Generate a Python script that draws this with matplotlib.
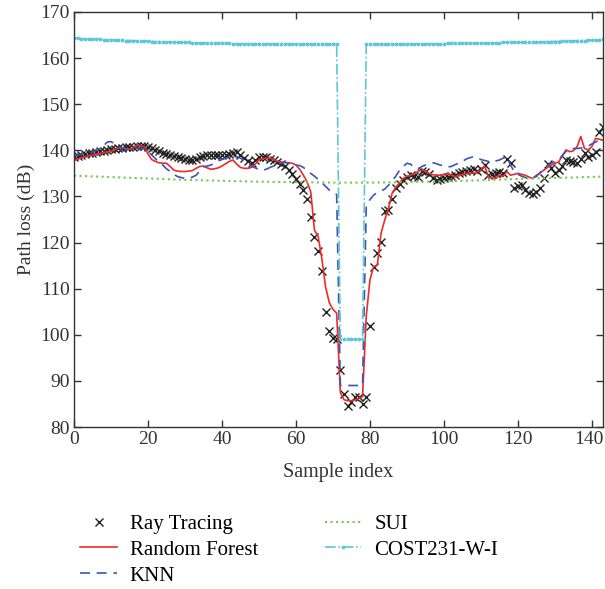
import matplotlib
matplotlib.use('Agg')
import matplotlib.pyplot as plt
import matplotlib.transforms as mtransforms
import numpy as np

plt.rcParams['font.family'] = ['Liberation Serif', 'DejaVu Serif']

# sample index
idx = list(range(144))

# Ray Tracing (dB)
ray = [138.6, 138.8, 139.0, 139.2, 139.4, 139.5, 139.7, 139.8, 139.9, 140.1,
       140.2, 140.3, 140.5, 140.6, 140.7, 140.8, 140.8, 140.9, 140.9, 140.9,
       140.7, 140.4, 140.1, 139.8, 139.5, 139.3, 139.0, 138.8, 138.5, 138.3,
       138.1, 137.9, 137.8, 138.2, 138.6, 138.8, 139.0, 139.0, 138.9, 138.9,
       138.9, 139.0, 139.2, 139.5, 139.7, 138.9, 138.3, 137.7, 137.2, 137.8,
       138.5, 138.6, 138.5, 138.2, 137.8, 137.5, 137.0, 136.5, 135.8, 134.8,
       133.8, 132.8, 131.4, 129.5, 125.5, 121.3, 118.2, 113.8, 105.0, 100.9,
       99.4, 99.0, 92.4, 87.1, 84.6, 85.5, 86.4, 86.6, 85.0, 86.4,
       101.9, 114.8, 117.7, 120.2, 126.9, 127.0, 129.4, 131.8, 132.8, 133.6,
       134.2, 134.6, 134.5, 134.3, 135.5, 135.2, 134.8, 133.9, 133.6, 133.7,
       133.9, 134.2, 134.5, 134.7, 135.0, 135.3, 135.6, 135.8, 135.9, 135.6,
       136.0, 136.8, 134.6, 134.9, 135.0, 135.2, 135.0, 138.1, 137.2, 131.8,
       132.3, 132.5, 131.4, 130.8, 130.6, 131.0, 131.8, 133.9, 137.0, 136.1,
       135.0, 135.8, 136.6, 137.9, 137.6, 137.5, 137.2, 138.2, 139.4, 138.6,
       139.0, 139.7, 144.0, 145.0]

# Random Forest (dB)
rf = [137.9, 138.1, 138.4, 138.6, 138.8, 139.0, 139.2, 139.3, 139.5, 139.7,
      139.8, 140.1, 140.5, 140.6, 140.3, 140.2, 140.6, 141.1, 140.9, 140.8,
      139.2, 138.0, 137.6, 137.3, 137.2, 137.2, 136.5, 135.7, 135.5, 135.4,
      135.4, 135.5, 135.6, 136.1, 136.5, 136.6, 136.2, 135.9, 136.0, 136.2,
      136.6, 137.1, 137.6, 137.9, 137.0, 136.3, 136.1, 136.1, 136.3, 137.0,
      138.0, 138.2, 138.3, 138.3, 138.0, 137.6, 137.5, 137.4, 137.3, 137.2,
      136.8, 135.9, 134.6, 133.2, 131.0, 122.7, 121.3, 116.5, 110.4, 107.0,
      105.5, 104.7, 87.5, 85.9, 85.7, 85.7, 85.9, 86.2, 86.6, 104.0,
      111.9, 114.8, 115.1, 122.0, 124.9, 127.4, 130.7, 132.0, 133.0, 133.9,
      134.4, 134.6, 135.0, 135.4, 135.8, 135.4, 135.0, 134.7, 134.6, 134.6,
      134.8, 135.0, 134.6, 134.3, 134.6, 134.8, 135.0, 135.0, 135.0, 135.3,
      135.7, 136.6, 134.3, 134.0, 133.9, 134.6, 134.3, 135.4, 134.6, 134.8,
      135.0, 134.8, 134.6, 134.2, 133.9, 134.6, 135.1, 135.7, 136.3, 136.8,
      137.2, 137.5, 138.8, 140.1, 139.7, 139.9, 140.8, 143.0, 140.4, 140.1,
      140.8, 142.6, 142.4, 142.2]

# KNN (dB)
knn = [139.0, 139.0, 139.1, 139.2, 139.3, 139.6, 140.0, 140.4, 141.0, 141.8,
       141.9, 141.4, 140.8, 140.4, 140.4, 140.5, 140.6, 140.5, 140.4, 140.4,
       139.8, 139.0, 138.2, 137.4, 136.8, 136.0, 135.4, 134.8, 134.3, 134.1,
       133.9, 133.9, 134.2, 134.6, 135.5, 136.4, 136.6, 136.8, 137.3, 137.7,
       138.0, 138.3, 138.5, 138.6, 138.6, 138.3, 137.8, 137.3, 136.6, 136.2,
       135.8, 135.7, 135.9, 136.3, 136.6, 136.9, 137.2, 137.4, 137.2, 137.0,
       136.8, 136.7, 136.3, 135.6, 135.0, 134.4, 133.7, 133.0, 132.2, 131.4,
       131.0, 130.4, 89.0, 89.0, 89.0, 89.0, 89.0, 89.0, 89.0, 127.8,
       129.3, 130.3, 130.8, 131.2, 131.6, 132.4, 133.4, 134.4, 135.7, 136.5,
       137.2, 137.0, 136.2, 135.8, 136.5, 136.8, 137.1, 137.3, 137.1, 136.8,
       136.6, 136.4, 136.5, 136.9, 137.2, 137.6, 138.1, 138.4, 138.6, 138.4,
       138.0, 137.8, 137.6, 137.5, 137.7, 137.9, 138.3, 138.6, 136.8, 135.4,
       134.8, 134.4, 134.1, 133.9, 134.1, 134.3, 135.2, 136.0, 136.7, 137.2,
       137.6, 137.9, 138.9, 139.8, 140.4, 140.4, 140.4, 140.5, 140.7, 140.9,
       141.4, 141.8, 142.2, 141.9]

# SUI (dB), read every 10 samples
sui_idx = [0, 10, 20, 30, 40, 50, 60, 70, 80, 90, 100, 110, 120, 130, 143]
sui = [134.5, 134.2, 133.9, 133.6, 133.4, 133.2, 133.1, 133.0, 133.0, 133.1,
       133.3, 133.5, 133.8, 134.0, 134.3]

# COST231-W-I (dB)
cost = ([164.3, 164.3, 164.2, 164.2, 164.2, 164.1, 164.1, 164.1, 164.0, 164.0,
         164.0, 163.9, 163.9, 163.9, 163.8, 163.8, 163.8, 163.7, 163.7, 163.7,
         163.7, 163.6, 163.6, 163.6, 163.5, 163.5, 163.5, 163.5, 163.4, 163.4,
         163.4, 163.4, 163.3, 163.3, 163.3, 163.3, 163.3, 163.2, 163.2, 163.2,
         163.2, 163.2, 163.2, 163.1, 163.1, 163.1, 163.1, 163.1]
        + [163.1] * 12 + [163.0] * 12
        + [99.0] * 7
        + [163.0] * 12 + [163.1] * 10 + [163.2] * 8 + [163.3] * 7 + [163.4] * 6
        + [163.5] * 5 + [163.6] * 5 + [163.7] * 4
        + [163.8, 163.8, 163.8, 163.9, 163.9, 163.9, 164.0, 164.1])

fig = plt.figure(figsize=(6.05, 5.89), dpi=100)
ax = fig.add_axes([74/605, 162/589, 529/605, 415/589])

ax.plot(idx, ray, 'x', color='#222222', markersize=6, markeredgewidth=1.0,
        label='Ray Tracing')
ax.plot(idx, rf, '-', color='#ee2a2a', linewidth=1.2, label='Random Forest')
ax.plot(idx, knn, '--', color='#3a55b4', linewidth=1.2, dashes=(6, 4),
        label='KNN')
ax.plot(sui_idx, sui, ':', color='#74c94a', linewidth=1.5, label='SUI')
ax.plot(idx, cost, '-.', color='#5ec6d6', linewidth=1.2, marker='.',
        markersize=3.5, label='COST231-W-I')

ax.set_xlim(0, 143)
ax.set_ylim(80, 170)
ax.set_xticks([0, 20, 40, 60, 80, 100, 120, 140])
ax.set_yticks(np.arange(80, 171, 10))
ax.tick_params(direction='in', top=True, right=True, length=5, width=1,
               labelsize=14, colors='#333333', pad=3)
for s in ax.spines.values():
    s.set_color('#333333')
    s.set_linewidth(1.0)

# keep the last x tick label inside the figure
last = ax.get_xticklabels()[-1]
last.set_transform(last.get_transform() +
                   mtransforms.ScaledTranslation(-3/100, 0, fig.dpi_scale_trans))

ax.set_xlabel('Sample index', fontsize=14.5, color='#333333', labelpad=11)
ax.set_ylabel('Path loss (dB)', fontsize=14, color='#333333', labelpad=4)

fig.legend(loc='upper left', bbox_to_anchor=(72/605, 1 - 506/589), ncol=2,
           frameon=False, fontsize=15, handlelength=1.75, handletextpad=0.62,
           columnspacing=3.2, labelspacing=0.3, borderaxespad=0)

fig.savefig('out.png', dpi=100)
